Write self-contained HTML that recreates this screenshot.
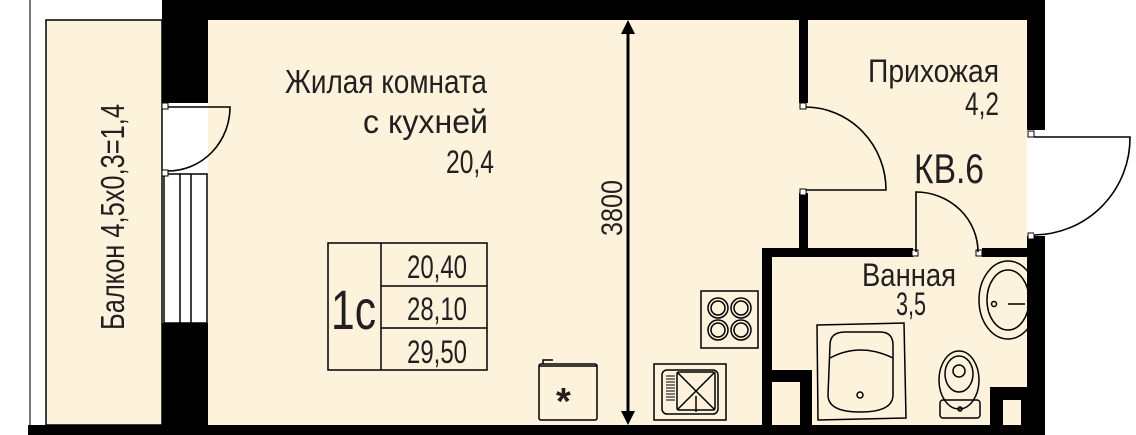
<!DOCTYPE html>
<html><head><meta charset="utf-8"><style>
html,body{margin:0;padding:0;background:#fff;}
svg{display:block;}
text{font-family:"Liberation Sans",sans-serif;fill:#231f20;}
</style></head><body>
<svg width="1136" height="435" viewBox="0 0 1136 435" xmlns="http://www.w3.org/2000/svg">
<rect width="1136" height="435" fill="#fff"/>
<line x1="30" y1="0" x2="30" y2="430" stroke="#777" stroke-width="2"/>
<rect x="46" y="20" width="116" height="405" fill="#fdf3dc" stroke="#000" stroke-width="1.5"/>
<rect x="208" y="20" width="819" height="405" fill="#fdf3dc"/>
<!-- sink (under wall) -->
<g fill="none" stroke="#000" stroke-width="1.5">
<ellipse cx="1008" cy="300" rx="29" ry="39"/>
<ellipse cx="1008" cy="300" rx="21" ry="30"/>
<circle cx="994" cy="304" r="2.5"/>
<line x1="1008" y1="304" x2="1025" y2="304"/>
</g>
<g fill="#000">
<rect x="162" y="0" width="883" height="20"/>
<rect x="162" y="0" width="46" height="103"/>
<rect x="162" y="323" width="46" height="102"/>
<rect x="28" y="425" width="1017" height="10"/>
<rect x="1027" y="0" width="18" height="130"/>
<rect x="1027" y="236" width="18" height="199"/>
<rect x="799" y="20" width="9" height="83"/>
<rect x="799" y="193" width="9" height="60"/>
<rect x="762" y="248" width="151" height="9"/>
<rect x="982" y="248" width="50" height="9"/>
<rect x="762" y="248" width="10" height="180"/>
<rect x="771" y="370" width="41" height="60"/>
<rect x="990" y="387" width="40" height="45"/>
</g>
<rect x="772" y="382" width="28" height="43" fill="#fdf3dc"/>
<rect x="1003" y="400" width="18" height="25" fill="#fdf3dc"/>
<rect x="164" y="174" width="43" height="149" fill="#fff" stroke="#000" stroke-width="1.5"/>
<line x1="180" y1="174" x2="180" y2="323" stroke="#000" stroke-width="1.5"/>
<line x1="191" y1="174" x2="191" y2="323" stroke="#000" stroke-width="1.5"/>
<g fill="#fff" stroke="#000" stroke-width="1">
<rect x="162" y="103" width="6" height="6"/><rect x="162" y="170" width="6" height="6"/>
<rect x="800" y="103" width="6" height="6"/><rect x="800" y="189" width="6" height="6"/>
<rect x="912" y="250" width="6" height="6"/><rect x="976" y="250" width="6" height="6"/>
<rect x="1028" y="131" width="6" height="6"/><rect x="1028" y="233" width="6" height="6"/>
</g>
<g fill="none" stroke="#000" stroke-width="1.6">
<path d="M168,107 H230 A62,64 0 0 1 168,171"/>
<path d="M806,190 H886 A81,83 0 0 0 806,107"/>
<path d="M916,252 V192 A62,60 0 0 1 978,252"/>
</g>
<path d="M1034,137 H1130 A97,97 0 0 1 1034,235 Z" fill="#fff" stroke="none"/>
<path d="M1034,137 H1130 A97,97 0 0 1 1034,235" fill="none" stroke="#000" stroke-width="1.6"/>
<line x1="628" y1="28" x2="628" y2="418" stroke="#000" stroke-width="3"/>
<polygon points="628,20 621,34 635,34" fill="#000"/>
<polygon points="628,425 621,411 635,411" fill="#000"/>
<text transform="translate(622,236) rotate(-90)" font-size="30" textLength="56" lengthAdjust="spacingAndGlyphs">3800</text>
<text x="285" y="93" font-size="33" textLength="202" lengthAdjust="spacingAndGlyphs">Жилая комната</text>
<text x="363" y="133" font-size="33" textLength="125" lengthAdjust="spacingAndGlyphs">с кухней</text>
<text x="446" y="173" font-size="32" textLength="48" lengthAdjust="spacingAndGlyphs">20,4</text>
<text x="868" y="82" font-size="32" textLength="131" lengthAdjust="spacingAndGlyphs">Прихожая</text>
<text x="965" y="115" font-size="32" textLength="34" lengthAdjust="spacingAndGlyphs">4,2</text>
<text x="914" y="183" font-size="42" textLength="70" lengthAdjust="spacingAndGlyphs">КВ.6</text>
<text x="862" y="286" font-size="32" textLength="94" lengthAdjust="spacingAndGlyphs">Ванная</text>
<text x="896" y="315" font-size="32" textLength="30" lengthAdjust="spacingAndGlyphs">3,5</text>
<text transform="translate(124,330) rotate(-90)" font-size="33" textLength="226" lengthAdjust="spacingAndGlyphs">Балкон 4,5х0,3=1,4</text>
<g fill="none" stroke="#000" stroke-width="1.5">
<rect x="328" y="243" width="159" height="127"/>
<line x1="381" y1="243" x2="381" y2="370"/>
<line x1="381" y1="286" x2="487" y2="286"/>
<line x1="381" y1="328" x2="487" y2="328"/>
</g>
<text x="331" y="329" font-size="56" textLength="45" lengthAdjust="spacingAndGlyphs">1с</text>
<text x="407" y="278" font-size="32" textLength="60" lengthAdjust="spacingAndGlyphs">20,40</text>
<text x="407" y="320" font-size="32" textLength="60" lengthAdjust="spacingAndGlyphs">28,10</text>
<text x="407" y="363" font-size="32" textLength="60" lengthAdjust="spacingAndGlyphs">29,50</text>
<g fill="none" stroke="#000" stroke-width="1.5">
<rect x="539" y="364" width="58" height="56" rx="2"/>
<line x1="539" y1="366" x2="597" y2="366"/>
<path d="M543,364 v-4 h10"/>
</g>
<text x="556" y="414" font-size="38" font-weight="bold" fill="#000">*</text>
<g fill="none" stroke="#000" stroke-width="1.5">
<rect x="701" y="291" width="57" height="57"/>
<circle cx="718" cy="308" r="10"/><circle cx="718" cy="308" r="7"/>
<circle cx="741" cy="308" r="10"/><circle cx="741" cy="308" r="7"/>
<circle cx="718" cy="330" r="10"/><circle cx="718" cy="330" r="7"/>
<circle cx="741" cy="330" r="10"/><circle cx="741" cy="330" r="7"/>
<rect x="654" y="364" width="72" height="56"/>
<rect x="662" y="370" width="56" height="44" rx="5"/>
<rect x="677" y="372" width="38" height="38" rx="2"/>
<path d="M677,372 L715,410 M715,372 L677,410"/>
<line x1="696" y1="396" x2="696" y2="412"/>
</g>
<g stroke="#000" stroke-width="1"><path d="M666,376h9M666,379h9M666,382h9M666,385h9M666,388h9M666,391h9M666,394h9M666,397h9M666,400h9"/></g>
<g fill="none" stroke="#000" stroke-width="1.5">
<path d="M817,325 L904,323 L906,418 L818,420 Z"/>
<path d="M830,345 Q830,332 845,332 L880,332 Q893,332 893,345 L893,395 Q893,412 860,412 Q828,412 828,395 Z"/>
<path d="M830,358 Q860,342 893,358"/>
<circle cx="860" cy="395" r="3"/>
<ellipse cx="959" cy="380" rx="20" ry="29"/>
<ellipse cx="959" cy="374" rx="14" ry="18"/>
<circle cx="959" cy="371" r="6"/>
<rect x="940" y="400" width="40" height="18" rx="3"/>
<circle cx="960" cy="409" r="2"/>
</g>
</svg>
</body></html>
